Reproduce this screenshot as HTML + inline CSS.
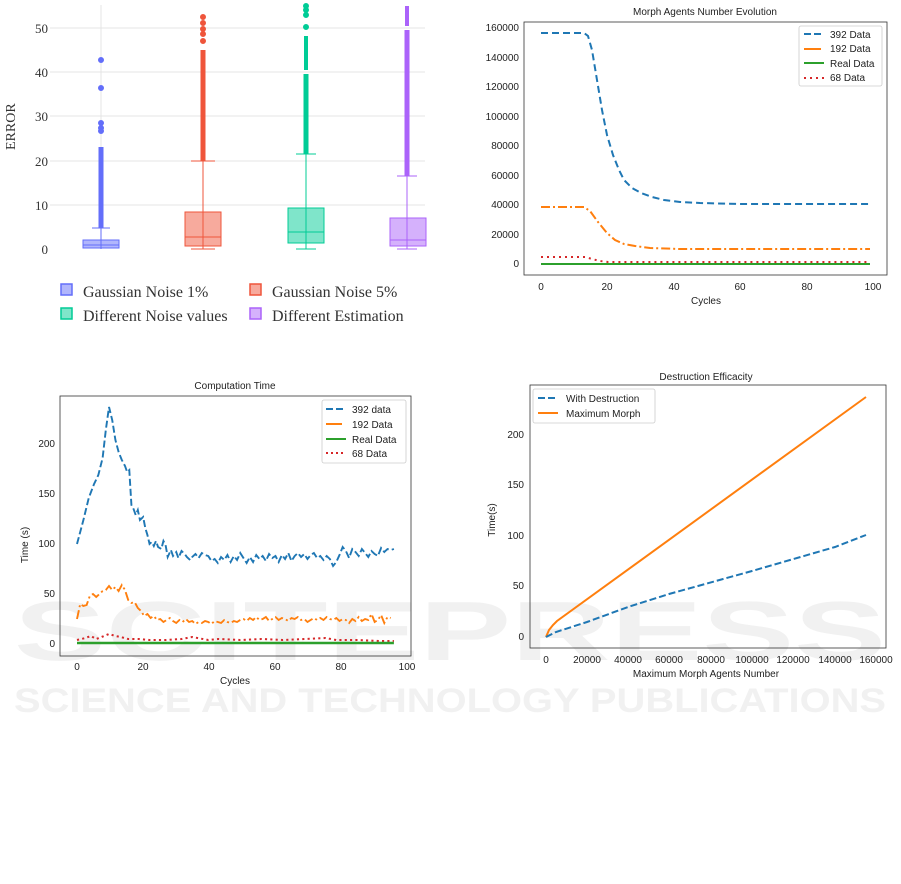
<!DOCTYPE html>
<html><head><meta charset="utf-8"><style>
body{margin:0;background:#fff;}
svg{display:block;}
.s{font-family:"Liberation Sans","DejaVu Sans",sans-serif;font-size:10px;fill:#222;}
.r{font-family:"Liberation Serif",serif;fill:#333;}
</style></head><body>
<svg width="901" height="884" viewBox="0 0 901 884" xmlns="http://www.w3.org/2000/svg">
<!-- watermark -->
<g fill="#f1f1f1" font-family="Liberation Sans,sans-serif" font-weight="bold">
<text x="14" y="660" font-size="84" textLength="872" lengthAdjust="spacingAndGlyphs">SCITEPRESS</text>
<text x="14" y="712" font-size="34" textLength="872" lengthAdjust="spacingAndGlyphs">SCIENCE AND TECHNOLOGY PUBLICATIONS</text>
</g>
<!-- ===== Box plot ===== -->
<g stroke="#e4e4e4" stroke-width="1">
<line x1="50" y1="28" x2="425" y2="28"/><line x1="50" y1="72" x2="425" y2="72"/>
<line x1="50" y1="116" x2="425" y2="116"/><line x1="50" y1="161" x2="425" y2="161"/>
<line x1="50" y1="205" x2="425" y2="205"/>
<line x1="101" y1="5" x2="101" y2="249"/>
</g>
<g class="r" font-size="13" text-anchor="end">
<text x="48" y="33">50</text><text x="48" y="77">40</text><text x="48" y="121">30</text>
<text x="48" y="166">20</text><text x="48" y="210">10</text><text x="48" y="254">0</text>
</g>
<text class="r" font-size="14" transform="translate(15,150) rotate(-90)">ERROR</text>
<g stroke="#636efa" fill="#636efa">
<line x1="101" y1="249" x2="101" y2="228"/><line x1="92" y1="228" x2="110" y2="228"/>
<rect x="83" y="240" width="36" height="8" fill="#636efa" fill-opacity="0.5"/>
<line x1="83" y1="245" x2="119" y2="245"/>
<line x1="101" y1="228" x2="101" y2="147" stroke-width="5"/>
<circle cx="101" cy="123" r="2.5"/><circle cx="101" cy="128" r="2.5"/><circle cx="101" cy="131" r="2.5"/>
<circle cx="101" cy="88" r="2.5"/><circle cx="101" cy="60" r="2.5"/>
</g>
<g stroke="#ef553b" fill="#ef553b">
<line x1="203" y1="249" x2="203" y2="161"/><line x1="191" y1="161" x2="215" y2="161"/><line x1="191" y1="249" x2="215" y2="249"/>
<rect x="185" y="212" width="36" height="34" fill="#ef553b" fill-opacity="0.5"/>
<line x1="185" y1="237" x2="221" y2="237"/>
<line x1="203" y1="161" x2="203" y2="50" stroke-width="5"/>
<circle cx="203" cy="41" r="2.5"/><circle cx="203" cy="34" r="2.5"/><circle cx="203" cy="29" r="2.5"/><circle cx="203" cy="23" r="2.5"/><circle cx="203" cy="17" r="2.5"/>
</g>
<g stroke="#00cc96" fill="#00cc96">
<line x1="306" y1="249" x2="306" y2="154"/><line x1="296" y1="154" x2="316" y2="154"/><line x1="296" y1="249" x2="316" y2="249"/>
<rect x="288" y="208" width="36" height="35" fill="#00cc96" fill-opacity="0.5"/>
<line x1="288" y1="232" x2="324" y2="232"/>
<line x1="306" y1="154" x2="306" y2="74" stroke-width="5"/>
<line x1="306" y1="70" x2="306" y2="36" stroke-width="4"/>
<circle cx="306" cy="27" r="2.5"/><circle cx="306" cy="15" r="2.5"/><circle cx="306" cy="10" r="2.5"/><circle cx="306" cy="6" r="2.5"/>
</g>
<g stroke="#ab63fa" fill="#ab63fa">
<line x1="407" y1="249" x2="407" y2="176"/><line x1="397" y1="176" x2="417" y2="176"/><line x1="397" y1="249" x2="417" y2="249"/>
<rect x="390" y="218" width="36" height="28" fill="#ab63fa" fill-opacity="0.5"/>
<line x1="390" y1="240" x2="426" y2="240"/>
<line x1="407" y1="176" x2="407" y2="30" stroke-width="5"/>
<line x1="407" y1="26" x2="407" y2="6" stroke-width="4"/>
</g>
<g class="r" font-size="16">
<rect x="61" y="284" width="11" height="11" fill="#636efa" fill-opacity="0.5" stroke="#636efa" stroke-width="1.5"/>
<text x="83" y="297">Gaussian Noise 1%</text>
<rect x="250" y="284" width="11" height="11" fill="#ef553b" fill-opacity="0.5" stroke="#ef553b" stroke-width="1.5"/>
<text x="272" y="297">Gaussian Noise 5%</text>
<rect x="61" y="308" width="11" height="11" fill="#00cc96" fill-opacity="0.5" stroke="#00cc96" stroke-width="1.5"/>
<text x="83" y="321">Different Noise values</text>
<rect x="250" y="308" width="11" height="11" fill="#ab63fa" fill-opacity="0.5" stroke="#ab63fa" stroke-width="1.5"/>
<text x="272" y="321">Different Estimation</text>
</g>

<!-- ===== Morph Agents Number Evolution ===== -->
<text class="s" x="705" y="15" text-anchor="middle" font-size="11">Morph Agents Number Evolution</text>
<rect x="524" y="22" width="363" height="253" fill="none" stroke="#333" stroke-width="0.8"/>
<g class="s" font-size="9.5" text-anchor="end">
<text x="519" y="31">160000</text><text x="519" y="61">140000</text><text x="519" y="90">120000</text>
<text x="519" y="120">100000</text><text x="519" y="149">80000</text><text x="519" y="179">60000</text>
<text x="519" y="208">40000</text><text x="519" y="238">20000</text><text x="519" y="267">0</text>
</g>
<g class="s" font-size="9.5" text-anchor="middle">
<text x="541" y="290">0</text><text x="607" y="290">20</text><text x="674" y="290">40</text>
<text x="740" y="290">60</text><text x="807" y="290">80</text><text x="873" y="290">100</text>
<text x="706" y="304">Cycles</text>
</g>
<polyline fill="none" stroke="#1f77b4" stroke-width="2" stroke-dasharray="7,4" points="541,33 584,33 588,36 592,50 597,80 602,110 607,135 613,155 619,170 624,180 632,188 641,193 652,197 664,200 680,202 700,203 740,204 870,204"/>
<polyline fill="none" stroke="#ff7f0e" stroke-width="2" stroke-dasharray="9,3,2,3" points="541,207 584,207 590,211 598,222 607,233 615,240 624,244 635,246 650,248 680,249 870,249"/>
<polyline fill="none" stroke="#d62728" stroke-width="2" stroke-dasharray="2,4" points="541,257 585,257 592,259 600,261 608,262 870,262"/>
<line x1="541" y1="264" x2="870" y2="264" stroke="#2ca02c" stroke-width="2"/>
<rect x="799" y="26" width="83" height="60" fill="#fff" stroke="#ccc" stroke-width="0.8" rx="2"/>
<g stroke-width="2">
<line x1="804" y1="34" x2="824" y2="34" stroke="#1f77b4" stroke-dasharray="7,3"/>
<line x1="804" y1="49" x2="821" y2="49" stroke="#ff7f0e"/>
<line x1="804" y1="63" x2="824" y2="63" stroke="#2ca02c"/>
<line x1="804" y1="78" x2="824" y2="78" stroke="#d62728" stroke-dasharray="2,4"/>
</g>
<g class="s" font-size="9.5">
<text x="830" y="38">392 Data</text><text x="830" y="52">192 Data</text>
<text x="830" y="67">Real Data</text><text x="830" y="81">68 Data</text>
</g>

<!-- ===== Computation Time ===== -->
<text class="s" x="235" y="389" text-anchor="middle" font-size="11">Computation Time</text>
<rect x="60" y="396" width="351" height="260" fill="none" stroke="#333" stroke-width="0.8"/>
<g class="s" font-size="9.5" text-anchor="end">
<text x="55" y="447">200</text><text x="55" y="497">150</text><text x="55" y="547">100</text>
<text x="55" y="597">50</text><text x="55" y="647">0</text>
</g>
<g class="s" font-size="9.5" text-anchor="middle">
<text x="77" y="670">0</text><text x="143" y="670">20</text><text x="209" y="670">40</text>
<text x="275" y="670">60</text><text x="341" y="670">80</text><text x="407" y="670">100</text>
<text x="235" y="684">Cycles</text>
</g>
<text class="s" font-size="9.5" transform="translate(28,545) rotate(-90)" text-anchor="middle">Time (s)</text>
<g transform="translate(77,0) scale(1.067,1) translate(-77,0)">
<polyline fill="none" stroke="#1f77b4" stroke-width="1.8" stroke-dasharray="7,3" points="77,544 83,520 88,498 93,484 97,475 101,458 104,430 107,407 110,420 113,440 116,452 119,460 122,466 124,472 126,470 128,505 130,509 132,515 134,510 136,520 139,517 141,528 143,535 145,544 147,542 149,546 151,541 153,547 156,549 158,541 160,545 162,557 165,550 167,556 170,552 172,558 175,551 178,554 180,557 183,560 185,557 188,554 191,558 194,553 197,555 200,556 203,561 206,559 209,563 212,557 215,560 218,555 221,562 224,556 227,560 230,553 233,558 236,563 239,557 242,562 245,555 248,559 251,556 254,561 257,554 260,558 263,556 266,562 269,555 272,559 275,553 278,561 281,556 284,553 287,557 290,554 293,559 296,555 299,553 302,558 305,556 308,560 311,556 314,559 317,566 320,562 323,555 326,547 329,551 332,558 335,549 338,552 341,556 344,549 347,553 350,557 353,551 356,554 359,556 362,548 365,552 368,549 371,550 374,549"/>
<polyline fill="none" stroke="#ff7f0e" stroke-width="1.8" stroke-dasharray="9,3,2,3" points="77,619 80,604 83,606 86,605 89,596 92,594 95,597 98,594 101,591 104,590 107,586 110,590 113,587 116,591 119,585 122,590 125,600 128,603 131,602 134,608 137,611 140,616 143,614 146,618 149,616 152,620 155,619 158,622 161,620 164,618 167,621 170,623 173,620 176,622 179,619 182,622 185,621 188,624 191,622 194,623 197,621 200,622 203,624 206,621 209,622 212,623 215,620 218,622 221,623 224,621 227,622 230,620 233,619 236,621 239,618 242,620 245,617 248,620 251,619 254,617 257,621 260,619 263,617 266,620 269,618 272,619 275,621 278,618 281,619 284,617 287,620 290,619 293,622 296,620 299,618 302,620 305,618 308,620 311,617 314,619 317,620 320,618 323,621 326,619 329,620 332,623 335,619 338,621 341,617 344,621 347,619 350,620 353,614 356,622 359,620 362,615 365,623 368,617 371,618"/>
<polyline fill="none" stroke="#d62728" stroke-width="2" stroke-dasharray="2,3" points="77,640 85,638 90,636 95,639 100,637 107,634 113,636 118,637 125,639 135,639 145,640 160,640 175,639 185,637 200,640 210,639 230,640 250,639 270,640 290,639 310,638 320,640 340,640 360,641 374,641"/>
<line x1="77" y1="643" x2="374" y2="643" stroke="#2ca02c" stroke-width="2.5"/>
</g>
<rect x="322" y="400" width="84" height="63" fill="#fff" stroke="#ccc" stroke-width="0.8" rx="2"/>
<g stroke-width="2">
<line x1="326" y1="409" x2="346" y2="409" stroke="#1f77b4" stroke-dasharray="7,3"/>
<line x1="326" y1="424" x2="342" y2="424" stroke="#ff7f0e"/>
<line x1="326" y1="439" x2="346" y2="439" stroke="#2ca02c"/>
<line x1="326" y1="453" x2="346" y2="453" stroke="#d62728" stroke-dasharray="2,3"/>
</g>
<g class="s" font-size="9.5">
<text x="352" y="413">392 data</text><text x="352" y="428">192 Data</text>
<text x="352" y="443">Real Data</text><text x="352" y="457">68 Data</text>
</g>

<!-- ===== Destruction Efficacity ===== -->
<text class="s" x="706" y="380" text-anchor="middle" font-size="11">Destruction Efficacity</text>
<rect x="530" y="385" width="356" height="263" fill="none" stroke="#333" stroke-width="0.8"/>
<g class="s" font-size="9.5" text-anchor="end">
<text x="524" y="438">200</text><text x="524" y="488">150</text><text x="524" y="539">100</text>
<text x="524" y="589">50</text><text x="524" y="640">0</text>
</g>
<g class="s" font-size="9.5" text-anchor="middle">
<text x="546" y="663">0</text><text x="587" y="663">20000</text><text x="628" y="663">40000</text>
<text x="669" y="663">60000</text><text x="711" y="663">80000</text><text x="752" y="663">100000</text>
<text x="793" y="663">120000</text><text x="835" y="663">140000</text><text x="876" y="663">160000</text>
<text x="706" y="677">Maximum Morph Agents Number</text>
</g>
<text class="s" font-size="9.5" transform="translate(495,520) rotate(-90)" text-anchor="middle">Time(s)</text>
<polyline fill="none" stroke="#ff7f0e" stroke-width="2" points="546,637 549,630 553,625 557,621 866,397"/>
<polyline fill="none" stroke="#1f77b4" stroke-width="2" stroke-dasharray="7,3" points="546,637 556,632 587,622 628,607 669,594 752,571 835,547 866,535"/>
<rect x="533" y="389" width="122" height="34" fill="#fff" stroke="#ccc" stroke-width="0.8" rx="2"/>
<g stroke-width="2">
<line x1="538" y1="398" x2="558" y2="398" stroke="#1f77b4" stroke-dasharray="7,3"/>
<line x1="538" y1="413" x2="558" y2="413" stroke="#ff7f0e"/>
</g>
<g class="s" font-size="9.5">
<text x="566" y="402">With Destruction</text><text x="566" y="417">Maximum Morph</text>
</g>
</svg>
</body></html>
